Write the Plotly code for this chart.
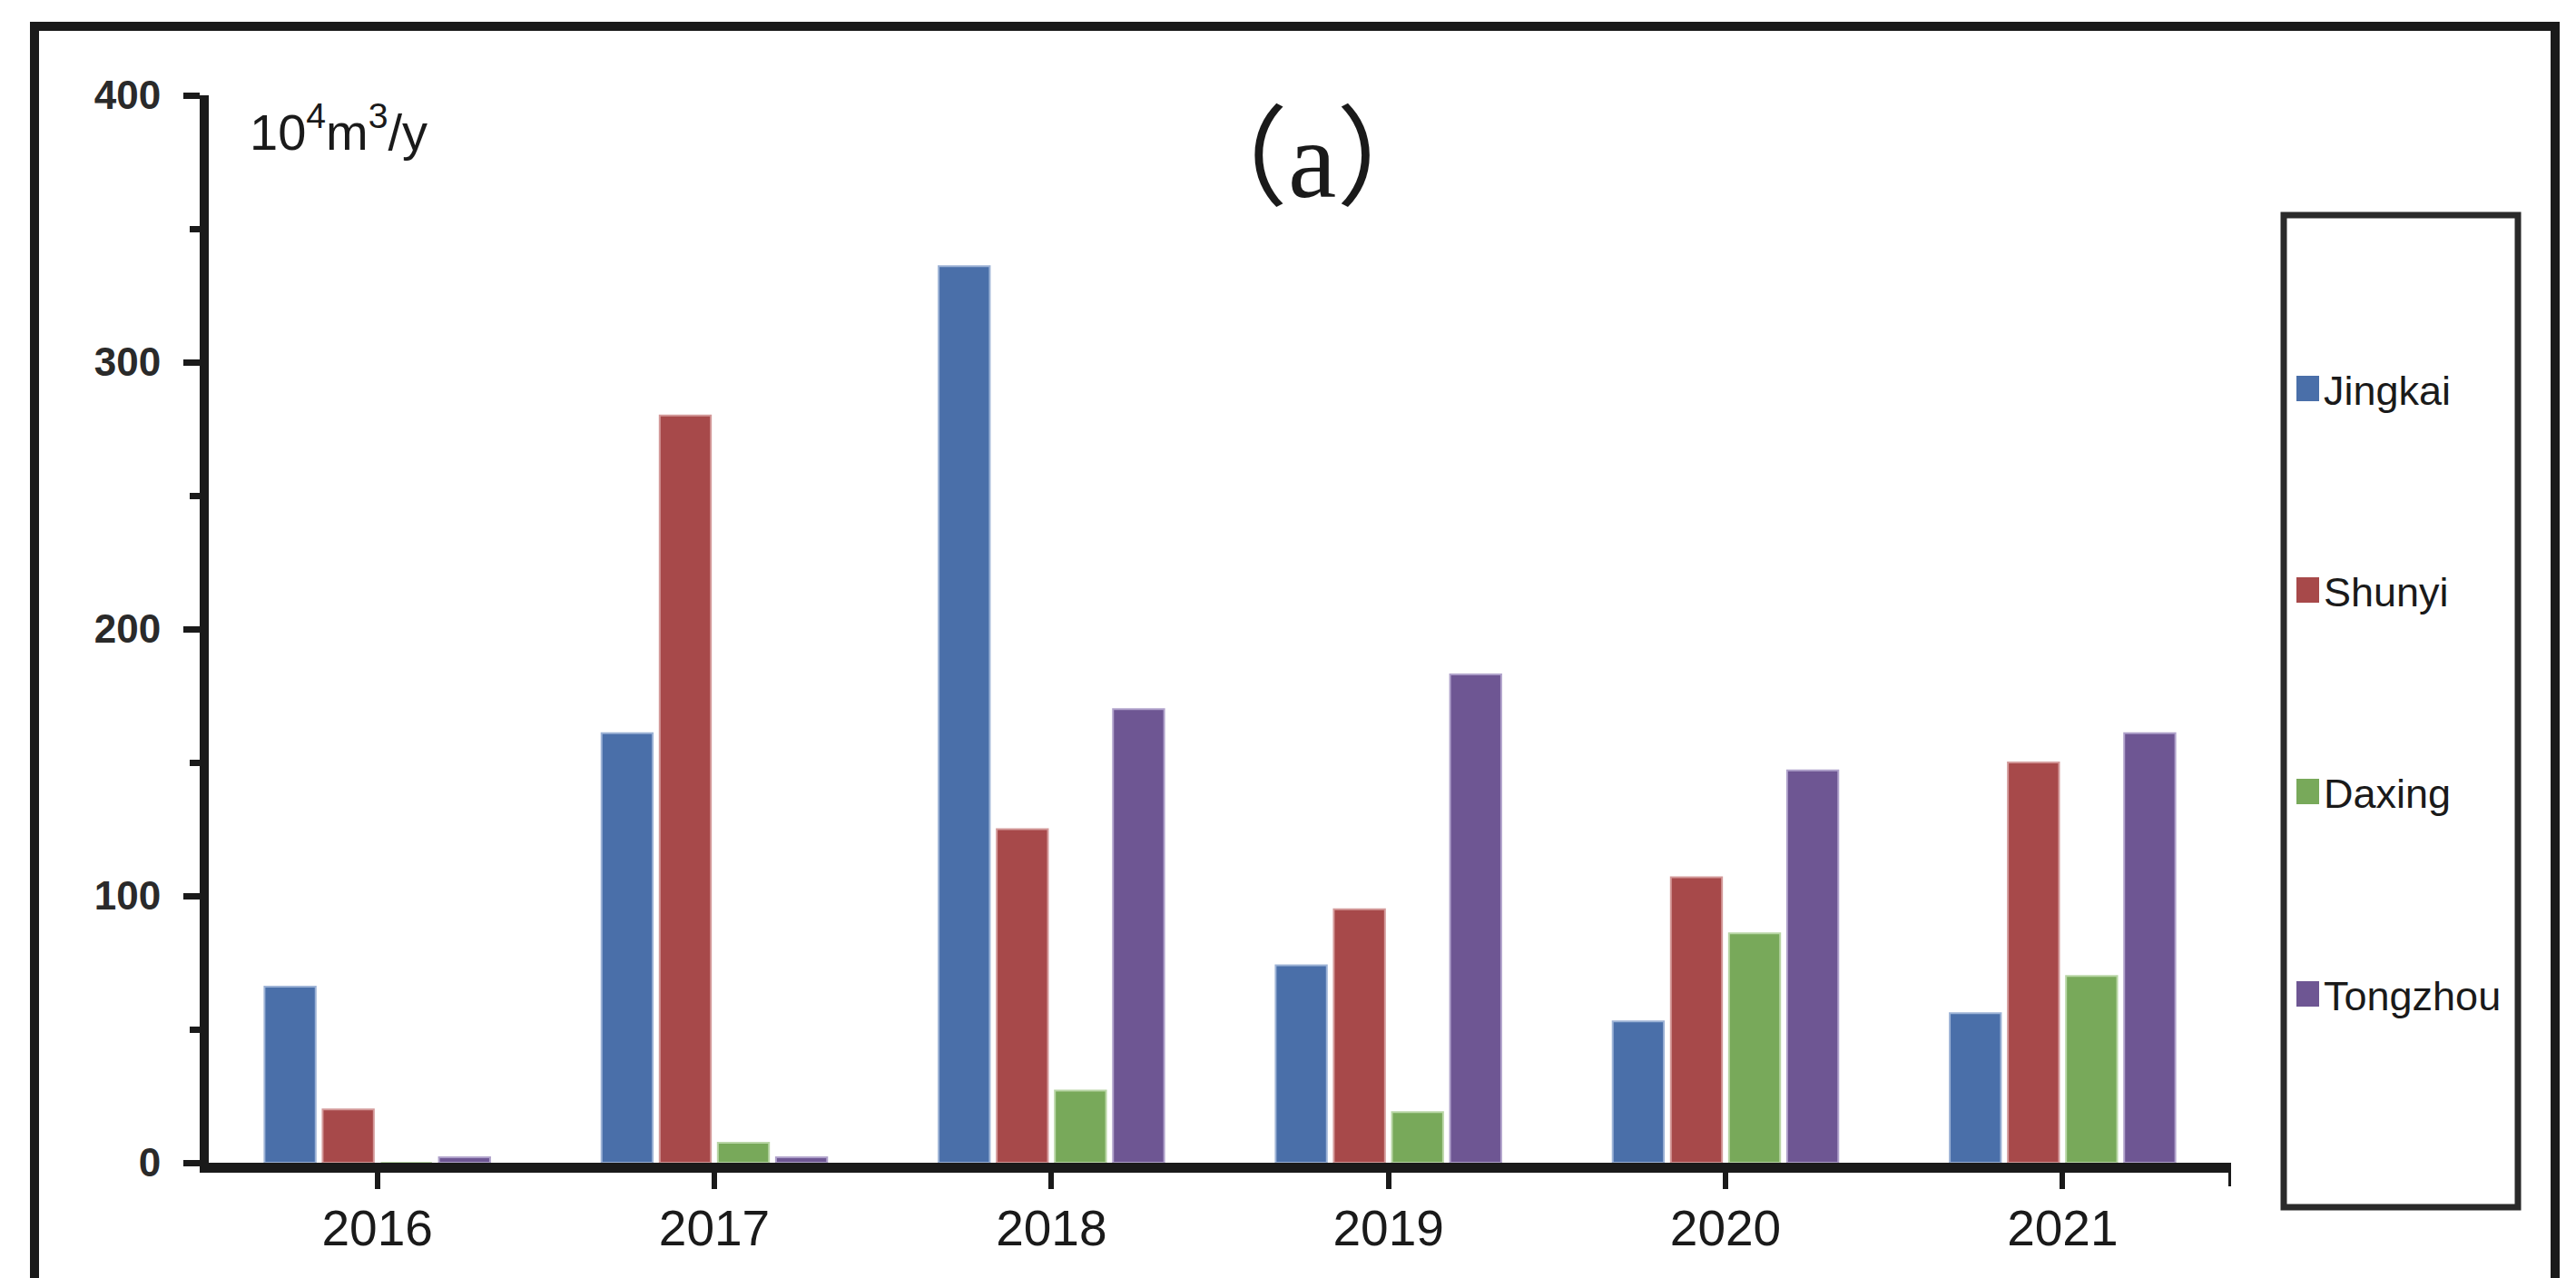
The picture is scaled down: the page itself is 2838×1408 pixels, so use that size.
import plotly.graph_objects as go

# ---------------- data ----------------
years = ["2016", "2017", "2018", "2019", "2020", "2021"]
series_names = ["Jingkai", "Shunyi", "Daxing", "Tongzhou"]
jingkai = [66, 161, 336, 74, 53, 56]
shunyi = [20, 280, 125, 95, 107, 150]
daxing = [0, 7.5, 27, 19, 86, 70]
tongzhou = [2, 2, 170, 183, 147, 161]
series_values = [jingkai, shunyi, daxing, tongzhou]
colors = ["#4A6FA9", "#A7494A", "#78A95A", "#6E5693"]
edge_colors = ["#9DB3D6", "#D49A9A", "#B9D6A6", "#B0A2CB"]
y_ticks = [0, 100, 200, 300, 400]
unit_label = "10<sup>4</sup>m<sup>3</sup>/y"
panel_title = "（a）"

# ---------------- geometry ----------------
W, H = 2838, 1408
PL, PR, PT, PB = 222, 2450, 97, 1273  # plot area in pixels
INK = "#1a1a1a"


def px(x):
    return (x - PL) / (PR - PL)


def py(y):
    return (PB - y) / (PB - PT)


fig = go.Figure()
for name, vals, c, ec in zip(series_names, series_values, colors, edge_colors):
    fig.add_trace(go.Bar(
        x=years, y=vals, name=name, showlegend=False,
        marker=dict(color=c, line=dict(color=ec, width=2)),
    ))

shapes = []
annotations = []

# outer frame (bottom runs off the canvas)
shapes.append(dict(type="rect", xref="paper", yref="paper",
                   x0=px(30), x1=px(2807), y0=py(1500), y1=py(21),
                   line=dict(color=INK, width=10), layer="below"))

# tick at the right end of the x axis
shapes.append(dict(type="line", xref="x", yref="paper",
                   x0=5.5, x1=5.5, y0=py(PB + 5), y1=py(PB + 26),
                   line=dict(color=INK, width=6)))

# legend box
shapes.append(dict(type="rect", xref="paper", yref="paper",
                   x0=px(2508), x1=px(2766), y0=py(1322), y1=py(229),
                   line=dict(color="#2a2a2a", width=7)))

legend_y = [420, 642, 864, 1087]
for name, c, ly in zip(series_names, colors, legend_y):
    shapes.append(dict(type="rect", xref="paper", yref="paper",
                       x0=px(2522), x1=px(2547), y0=py(ly + 14), y1=py(ly - 14),
                       fillcolor=c, line=dict(width=0)))
    annotations.append(dict(xref="paper", yref="paper", x=px(2550), y=py(ly + 2),
                            xanchor="left", yanchor="middle", showarrow=False,
                            text=name,
                            font=dict(family="Liberation Sans, Arial, sans-serif",
                                      size=45, color=INK)))

# unit label
annotations.append(dict(xref="paper", yref="paper", x=px(265), y=py(133),
                        xanchor="left", yanchor="middle", showarrow=False,
                        text=unit_label,
                        font=dict(family="Liberation Sans, Arial, sans-serif",
                                  size=56, color=INK)))

# panel title
annotations.append(dict(xref="paper", yref="paper", x=px(1437), y=py(168),
                        xanchor="center", yanchor="middle", showarrow=False,
                        text=panel_title,
                        font=dict(family="Liberation Serif, Noto Sans CJK SC, serif",
                                  size=120, color=INK)))

fig.update_layout(
    width=W, height=H,
    margin=dict(l=PL, r=W - PR, t=PT, b=H - PB, pad=0),
    paper_bgcolor="white", plot_bgcolor="white",
    barmode="group", bargap=0.31, bargroupgap=0.12,
    shapes=shapes, annotations=annotations,
    showlegend=False,
)
fig.update_xaxes(
    type="category", range=[-0.5, 5.5],
    showline=True, linecolor=INK, linewidth=11,
    ticks="outside", ticklen=18, tickwidth=6, tickcolor=INK,
    showgrid=False, zeroline=False,
    tickfont=dict(family="Liberation Sans, Arial, sans-serif", size=55, color=INK),
    ticklabelstandoff=-4,
)
fig.update_yaxes(
    range=[0, 400], tickvals=y_ticks,
    showline=True, linecolor=INK, linewidth=10,
    ticks="outside", ticklen=18, tickwidth=7, tickcolor=INK,
    minor=dict(dtick=50, ticks="outside", ticklen=11, tickwidth=7, tickcolor=INK),
    showgrid=False, zeroline=False,
    tickfont=dict(family="Liberation Sans, Arial, sans-serif", size=44,
                  color="#2a2a2a", weight="bold"),
    ticklabelstandoff=16,
)

fig.write_html("out.html")
